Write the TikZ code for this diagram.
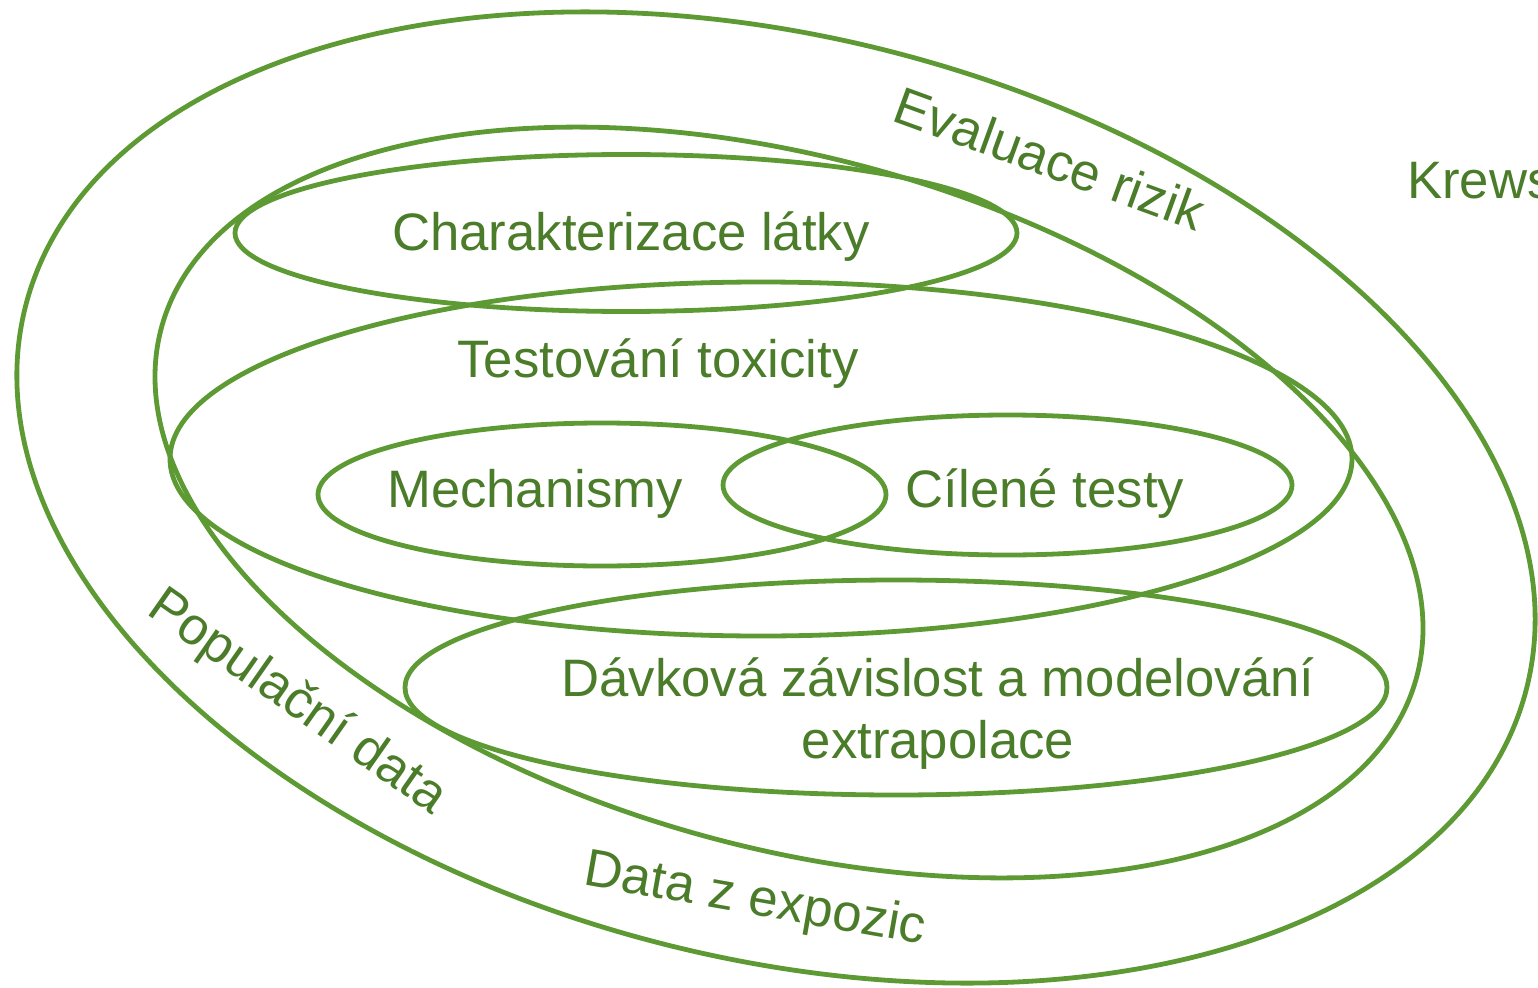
\documentclass[tikz,border=0pt]{standalone}
\usepackage{fontspec}
\setmainfont{Liberation Sans}
\usetikzlibrary{shapes.geometric}
\definecolor{ringgreen}{HTML}{5D9A34}
\definecolor{labelgreen}{HTML}{4A7C29}
\tikzset{
  ring/.style={ellipse, draw=ringgreen, line width=4.8pt, inner sep=0pt, outer sep=0pt},
  label/.style={text=labelgreen, inner sep=0pt, font=\fontsize{52.7pt}{62pt}\selectfont, align=center}
}
\begin{document}
\begin{tikzpicture}[x=1pt, y=-1pt]
  \useasboundingbox (0,0) rectangle (1538,987);
  \clip (0,0) rectangle (1538,987);

  % nested fields of risk assessment
  \node[ring, minimum width=1549pt, minimum height=921pt, rotate=-14.3] (risk) at (776,497.5) {};
  \node[ring, minimum width=1303pt, minimum height=688pt, rotate=-15.75] (expo) at (789,502.5) {};
  \node[ring, minimum width=782pt, minimum height=157pt] (chem) at (626,233) {};
  \node[ring, minimum width=1182pt, minimum height=354pt] (tox) at (761,459) {};
  \node[ring, minimum width=568pt, minimum height=143pt] (mech) at (602,494.5) {};
  \node[ring, minimum width=569pt, minimum height=140pt] (target) at (1007.5,485) {};
  \node[ring, minimum width=982pt, minimum height=215pt] (dose) at (896,687.5) {};

  % labels
  \node[label] (chemtxt) at (631,237) {Charakterizace látky};
  \node[label] (toxtxt) at (658,364) {Testování toxicity};
  \node[label] (mechtxt) at (535,494) {Mechanismy};
  \node[label] (targettxt) at (1045,494) {Cílené testy};
  \node[label] (dosetxt) at (938,714) {Dávková závislost a modelování\\extrapolace};
  \node[label, rotate=-20] (risktxt) at (1050,158) {Evaluace rizik};
  \node[label, rotate=-35] (poptxt) at (297,703) {Populační data};
  \node[label, rotate=-10] (expotxt) at (755,901) {Data z expozic};
  \node[label, anchor=base west] (author) at (1407,198) {Krews};
\end{tikzpicture}
\end{document}
